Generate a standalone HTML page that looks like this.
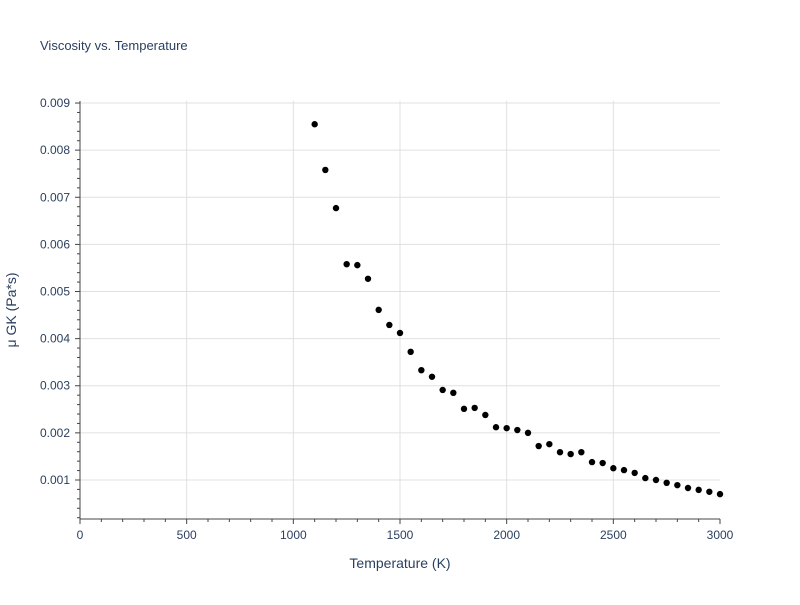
<!DOCTYPE html>
<html><head><meta charset="utf-8"><style>
body{margin:0;background:#fff;font-family:"Liberation Sans",sans-serif;}
</style></head><body>
<svg id="chart" width="800" height="600" xmlns="http://www.w3.org/2000/svg" style="font-family:'Liberation Sans',sans-serif">
<rect width="800" height="600" fill="#fff"/>
<text x="40" y="50" font-size="13" fill="#2a3f5f">Viscosity vs. Temperature</text>
<g id="grid"></g><g id="axes"></g><g id="pts"></g>
<text x="400" y="568" font-size="14" fill="#2a3f5f" text-anchor="middle">Temperature (K)</text>
<text transform="translate(16,310) rotate(-90)" font-size="14" fill="#2a3f5f" text-anchor="middle">μ GK (Pa*s)</text>
</svg>
<script>
const temps=[1100,1150,1200,1250,1300,1350,1400,1450,1500,1550,1600,1650,1700,1750,1800,1850,1900,1950,2000,2050,2100,2150,2200,2250,2300,2350,2400,2450,2500,2550,2600,2650,2700,2750,2800,2850,2900,2950,3000];
const viscosity=[0.00855,0.00758,0.00677,0.00558,0.00556,0.00527,0.00461,0.00429,0.00412,0.00372,0.00333,0.00319,0.00291,0.00285,0.00251,0.00253,0.00238,0.00212,0.00210,0.00206,0.00200,0.00172,0.00176,0.00159,0.00155,0.00159,0.00138,0.00136,0.00125,0.00121,0.00115,0.00104,0.00100,0.00094,0.00089,0.00083,0.00079,0.00075,0.00070];
const xTicks=[0,500,1000,1500,2000,2500,3000];
const yTicks=[0.001,0.002,0.003,0.004,0.005,0.006,0.007,0.008,0.009];
const yTickLabels=["0.001","0.002","0.003","0.004","0.005","0.006","0.007","0.008","0.009"];
const NS="http://www.w3.org/2000/svg";
const X0=80,X1=720,Y0=519,Y1=101;
const xMin=0,xMax=3000,yMin=0.000172,yMax=0.009043;
const sx=v=>X0+(v-xMin)/(xMax-xMin)*(X1-X0);
const sy=v=>Y0-(v-yMin)/(yMax-yMin)*(Y0-Y1);
function mk(tag,attrs,parent){const e=document.createElementNS(NS,tag);for(const k in attrs)e.setAttribute(k,attrs[k]);document.getElementById(parent).appendChild(e);return e;}
xTicks.forEach(t=>{
  if(t>0&&t<3000){const l=mk('line',{x1:sx(t),x2:sx(t),y1:Y1,y2:Y0,stroke:'#e0e0e0'},'grid');
  
  }
  const tx=mk('text',{x:sx(t),y:Y0+20,'font-size':12,fill:'#2a3f5f','text-anchor':'middle'},'axes');tx.textContent=t;
  
  
});
for(let t=0;t<=3000;t+=100){mk('line',{x1:sx(t),x2:sx(t),y1:Y0,y2:Y0+(t%500?3:5),stroke:'#444'},'axes');}
yTicks.forEach((t,i)=>{
  const l=mk('line',{x1:X0,x2:X1,y1:sy(t),y2:sy(t),stroke:'#e0e0e0'},'grid');
  
  
  const tx=mk('text',{x:X0-10,y:sy(t)+4,'font-size':12,fill:'#2a3f5f','text-anchor':'end'},'axes');tx.textContent=yTickLabels[i];
  
  
});
for(let t=0.0002;t<=0.009;t+=0.0002){mk('line',{x1:X0-(Math.abs(t*1000-Math.round(t*1000))<1e-6?5:3),x2:X0,y1:sy(t),y2:sy(t),stroke:'#444'},'axes');}
mk('line',{x1:X0,x2:X0,y1:Y1,y2:Y0,stroke:'#444'},'axes');
mk('line',{x1:X0,x2:X1,y1:Y0,y2:Y0,stroke:'#444'},'axes');
temps.forEach((t,i)=>{
  const c=mk('circle',{cx:sx(t),cy:sy(viscosity[i]),r:3.2,fill:'#000'},'pts');
  
  
});
</script>
</body></html>
